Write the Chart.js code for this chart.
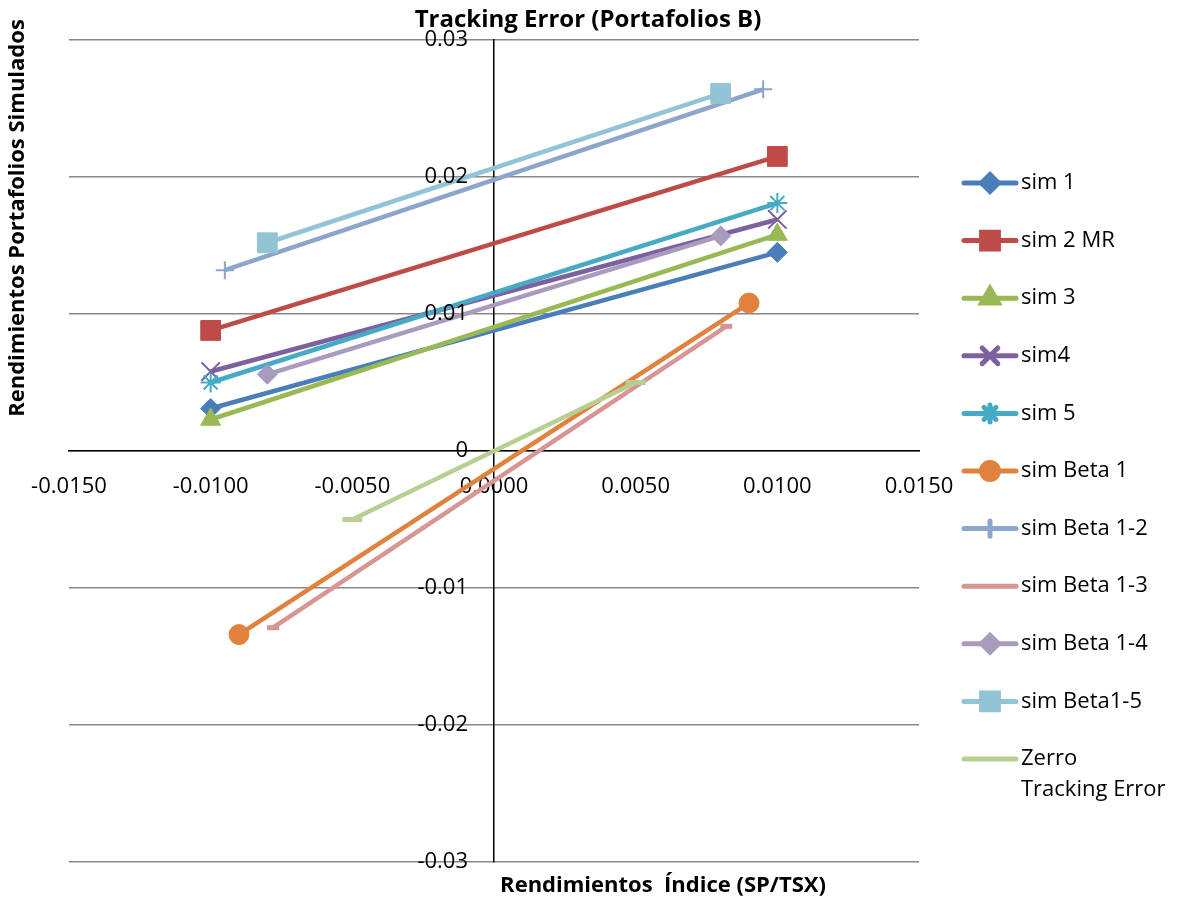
<!DOCTYPE html>
<html>
<head>
<meta charset="utf-8">
<script src="https://cdn.jsdelivr.net/npm/chart.js@4.4.0/dist/chart.umd.min.js"></script>
<style>
  html, body { margin: 0; padding: 0; background: #fff; }
  #wrap { width: 1182px; height: 911px; position: relative; }
</style>
</head>
<body>
<div id="wrap"><canvas id="trackingChart"></canvas></div>
<script>
// Series data (two points per series)
const seriesNames = ['sim 1', 'sim 2 MR', 'sim 3', 'sim4', 'sim 5', 'sim Beta 1',
    'sim Beta 1-2', 'sim Beta 1-3', 'sim Beta 1-4', 'sim Beta1-5', 'Zerro Tracking Error'];
const xStart = [-0.0100, -0.0100, -0.0100, -0.0100, -0.0100, -0.0090, -0.0095, -0.0078, -0.0080, -0.0080, -0.0050];
const yStart = [0.0031, 0.0088, 0.0023, 0.0058, 0.0050, -0.0134, 0.0132, -0.0129, 0.0056, 0.0152, -0.0050];
const xEnd = [0.0100, 0.0100, 0.0100, 0.0100, 0.0100, 0.0090, 0.0095, 0.0082, 0.0080, 0.0080, 0.0050];
const yEnd = [0.0145, 0.0215, 0.0158, 0.0169, 0.0181, 0.0108, 0.0264, 0.0091, 0.0157, 0.0261, 0.0050];

const xTicks = [-0.015, -0.010, -0.005, 0, 0.005, 0.010, 0.015];
const yTicks = [-0.03, -0.02, -0.01, 0, 0.01, 0.02, 0.03];

// Marker looks, same order as seriesNames
const colors = ['#4A7EBB', '#BE4B48', '#98B954', '#7D60A0', '#46AAC5', '#E0823D',
    '#8EA5CB', '#D79594', '#A99BBD', '#93C4D5', '#B8CF94'];
const markers = ['rectRot', 'rect', 'triangle', 'crossRot', 'star', 'circle',
    'cross', 'line', 'rectRot', 'rect', 'line'];
const markerSize = [10, 14, 11.5, 13, 10, 10, 9, 6, 10, 14, 10];
const markerLine = [1, 1, 1, 2, 2, 1, 2, 5, 1, 1, 5];

const FONT = '"Open Sans", "Liberation Sans", sans-serif';

const datasets = seriesNames.map((name, i) => ({
    label: name,
    data: [{ x: xStart[i], y: yStart[i] }, { x: xEnd[i], y: yEnd[i] }],
    showLine: true,
    borderColor: colors[i],
    backgroundColor: colors[i],
    borderWidth: 4.5,
    pointStyle: markers[i],
    pointRadius: markerSize[i],
    pointHoverRadius: markerSize[i],
    pointBorderWidth: markerLine[i],
    pointBorderColor: colors[i],
    pointBackgroundColor: colors[i],
    order: seriesNames.length - i
}));

// Title, axis titles, y tick labels and the legend on the right
const decorations = {
    id: 'decorations',
    afterDraw(chart) {
        const ctx = chart.ctx;
        const yScale = chart.scales.y;
        ctx.save();
        ctx.fillStyle = '#000';
        ctx.textBaseline = 'middle';

        // y tick labels sit left of the y axis, like Excel
        ctx.font = '22px ' + FONT;
        ctx.textAlign = 'right';
        yTicks.forEach(v => {
            const label = v === 0 ? '0' : v.toFixed(2);
            ctx.fillText(label, 468, yScale.getPixelForValue(v));
        });

        ctx.font = 'bold 24px ' + FONT;
        ctx.textAlign = 'center';
        ctx.fillText('Tracking Error (Portafolios B)', 588, 20);

        ctx.font = 'bold 22px ' + FONT;
        ctx.fillText('Rendimientos  Índice (SP/TSX)', 663, 886);

        ctx.save();
        ctx.translate(18, 218);
        ctx.rotate(-Math.PI / 2);
        ctx.fillText('Rendimientos Portafolios Simulados', 0, 0);
        ctx.restore();

        // legend
        ctx.font = '22px ' + FONT;
        ctx.textAlign = 'left';
        seriesNames.forEach((name, i) => {
            const y = 183 + i * 57.6;
            ctx.strokeStyle = colors[i];
            ctx.lineWidth = 5;
            ctx.lineCap = 'round';
            ctx.beginPath();
            ctx.moveTo(964, y);
            ctx.lineTo(1016, y);
            ctx.stroke();
            if (markers[i] !== 'line' && Chart.helpers && Chart.helpers.drawPoint) {
                ctx.fillStyle = colors[i];
                Chart.helpers.drawPoint(ctx, {
                    pointStyle: markers[i],
                    radius: markerSize[i] * 0.85,
                    rotation: 0,
                    borderWidth: markerLine[i]
                }, 990, y);
            }
            ctx.fillStyle = '#000';
            if (i === seriesNames.length - 1) {
                ctx.fillText('Zerro', 1021, y);
                ctx.fillText('Tracking Error', 1021, y + 31);
            } else {
                ctx.fillText(name, 1021, y);
            }
        });
        ctx.restore();
    }
};

const chart = new Chart(document.getElementById('trackingChart').getContext('2d'), {
    type: 'scatter',
    data: { datasets: datasets },
    options: {
        responsive: true,
        maintainAspectRatio: false,
        animation: false,
        layout: { padding: { left: 69, top: 40, right: 263, bottom: 49 } },
        plugins: {
            legend: { display: false },
            title: { display: false },
            tooltip: { enabled: false }
        },
        scales: {
            x: {
                type: 'linear',
                min: xTicks[0],
                max: xTicks[xTicks.length - 1],
                position: { y: 0 },
                afterBuildTicks: scale => { scale.ticks = xTicks.map(v => ({ value: v })); },
                grid: { display: false, drawTicks: false },
                border: { display: true, color: '#000', width: 1.5 },
                ticks: {
                    padding: 23,
                    color: '#000',
                    font: { family: FONT, size: 22 },
                    maxRotation: 0,
                    autoSkip: false,
                    callback: v => v.toFixed(4)
                }
            },
            y: {
                type: 'linear',
                min: yTicks[0],
                max: yTicks[yTicks.length - 1],
                position: { x: 0 },
                afterBuildTicks: scale => { scale.ticks = yTicks.map(v => ({ value: v })); },
                grid: { color: '#888888', lineWidth: 1.5, drawTicks: false },
                border: { display: true, color: '#000', width: 1.5 },
                ticks: { display: false }
            }
        }
    },
    plugins: [decorations]
});
</script>
</body>
</html>
